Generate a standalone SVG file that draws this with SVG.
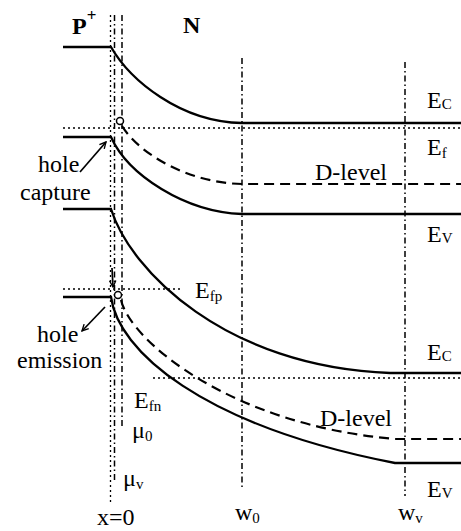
<svg xmlns="http://www.w3.org/2000/svg" width="461" height="531" viewBox="0 0 461 531">
<style>
.band{fill:none;stroke:#000;stroke-width:2.3}
.dash{fill:none;stroke:#000;stroke-width:2.2;stroke-dasharray:10,6}
.dot{fill:none;stroke:#000;stroke-width:1.3;stroke-dasharray:2,3}
.dd{fill:none;stroke:#000;stroke-width:1.5;stroke-dasharray:6,3,1.5,3}
.arr{fill:none;stroke:#000;stroke-width:1.7}
.sub{font-size:15px}
.b{font-weight:bold}
</style>
<defs>
<marker id="ah" viewBox="0 0 10 10" refX="9" refY="5" markerWidth="8" markerHeight="8" orient="auto" markerUnits="userSpaceOnUse">
<path d="M1,1 L9,5 L1,9" fill="none" stroke="#000" stroke-width="1.7"/>
</marker>
</defs>
<g id="guides">
<line class="dot" x1="110.5" y1="15" x2="110.5" y2="503"/>
<line class="dd" x1="114.5" y1="15" x2="114.5" y2="480"/>
<line class="dd" x1="122" y1="15" x2="122" y2="428"/>
<line class="dd" x1="242" y1="58" x2="242" y2="490"/>
<line class="dd" x1="405" y1="62" x2="405" y2="496"/>
</g>
<g id="upper-diagram">
<path class="band" d="M63,47 H111 C130,80 180,122 242,123 H461"/>
<path class="dot" d="M63,128 H461"/>
<path class="band" d="M63,137 H111 C128,175 185,212 242,214 H461"/>
<path class="dash" d="M122,126 C140,155 190,183 242,184 H461"/>
<circle cx="120" cy="121" r="3.5" fill="#fff" stroke="#000" stroke-width="1.5"/>
</g>
<g id="lower-diagram">
<path class="band" d="M63,209 H111 C130,270 225,367 390,373 H461"/>
<path class="dot" d="M63,289 H182"/>
<path class="dot" d="M153,378 H461"/>
<path class="band" d="M63,297 H111 C118,350 200,425 395,463 H461"/>
<path class="dash" d="M121,300 C130,340 230,425 395,439 H461"/>
<circle cx="118" cy="295" r="3.5" fill="#fff" stroke="#000" stroke-width="1.5"/>
</g>
<g id="connectors">
<line class="arr" x1="80" y1="172" x2="106" y2="142" marker-end="url(#ah)"/>
<line class="arr" x1="105" y1="307" x2="82" y2="331" marker-end="url(#ah)"/>
<line class="arr" x1="112" y1="268" x2="113" y2="287" marker-end="url(#ah)"/>
</g>
<g id="labels" font-family="'Liberation Serif', 'DejaVu Serif', serif" font-size="24" fill="#000">
<text x="72" y="34" class="b">P<tspan dy="-13" font-size="17">+</tspan></text>
<text x="183" y="33" class="b">N</text>
<text x="427" y="108">E<tspan class="sub" dy="1">C</tspan></text>
<text x="427" y="155">E<tspan class="sub" dy="3">f</tspan></text>
<text x="315" y="180">D-level</text>
<text x="427" y="242">E<tspan class="sub" dy="1">V</tspan></text>
<text x="38" y="172">hole</text>
<text x="20" y="200">capture</text>
<text x="195" y="298">E<tspan class="sub" dy="3">fp</tspan></text>
<text x="37" y="342">hole</text>
<text x="17" y="368">emission</text>
<text x="427" y="360">E<tspan class="sub" dy="1">C</tspan></text>
<text x="134" y="408">E<tspan class="sub" dy="3">fn</tspan></text>
<text x="320" y="426">D-level</text>
<text x="132" y="438">μ<tspan class="sub" dy="3">0</tspan></text>
<text x="123" y="486">μ<tspan class="sub" dy="3">v</tspan></text>
<text x="427" y="497">E<tspan class="sub" dy="1">V</tspan></text>
<text x="97" y="525">x=0</text>
<text x="235" y="520">w<tspan class="sub" dy="3">0</tspan></text>
<text x="398" y="520">w<tspan class="sub" dy="3">v</tspan></text>
</g>
</svg>
